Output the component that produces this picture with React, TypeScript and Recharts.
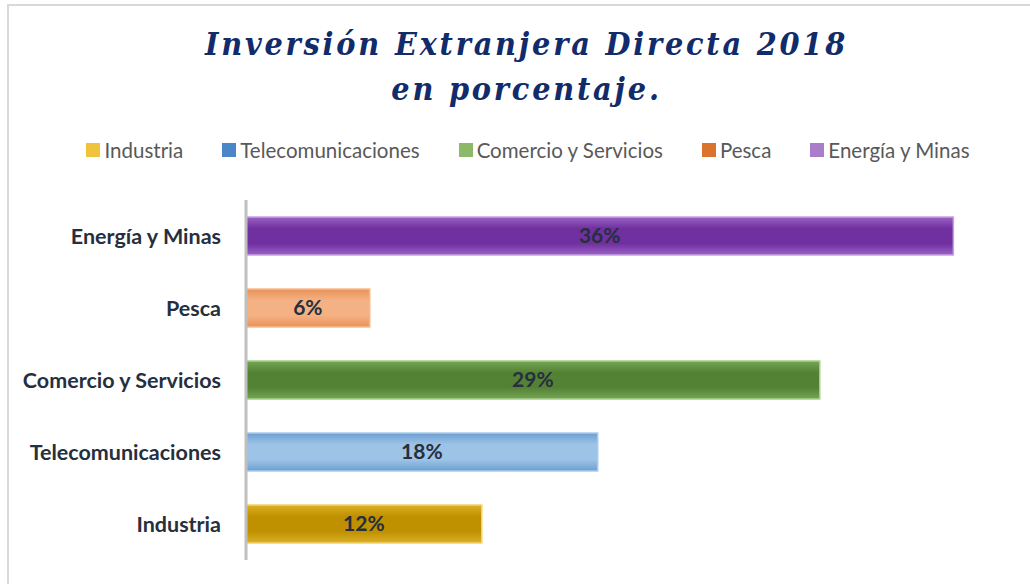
import { Bar, BarChart, Cell, LabelList, Legend, XAxis, YAxis } from 'recharts'

// IED 2018 por sector, en porcentaje (orden de abajo hacia arriba en la gráfica)
const sectores = ['Industria', 'Telecomunicaciones', 'Comercio y Servicios', 'Pesca', 'Energía y Minas']
const porcentajes = [12, 17.9, 29.2, 6.3, 36]
const etiquetas = ['12%', '18%', '29%', '6%', '36%']

// [centro, borde, contorno, leyenda]
const colores = [
  ['#bf9000', '#dcb128', '#f3d36a', '#f0c33c'],
  ['#9dc3e6', '#6d9fd3', '#a9cbec', '#4a86c8'],
  ['#548235', '#77a556', '#a5cf8a', '#8cb86a'],
  ['#f4b183', '#ea9258', '#f5bb90', '#d9732e'],
  ['#7030a0', '#9a62c4', '#c7a1e2', '#a97dc9'],
]

// Recharts dibuja la categoría de arriba primero; invertimos para que Energía quede arriba
const data = sectores
  .map((s, i) => ({ sector: s, valor: porcentajes[i], etiqueta: etiquetas[i], idx: i }))
  .reverse()

const font = "Lato, 'Open Sans', sans-serif"

function LeyendaIED() {
  return (
    <div style={{ display: 'flex', justifyContent: 'center', gap: 39, fontFamily: font, fontSize: 20.5, color: '#595959', height: 24 }}>
      {sectores.map((s, i) => (
        <span key={s} style={{ display: 'flex', alignItems: 'center', gap: 4 }}>
          <span style={{ width: 14, height: 14, background: colores[i][3], display: 'inline-block' }} />
          {s}
        </span>
      ))}
    </div>
  )
}

export default function App() {
  return (
    <div style={{ position: 'absolute', left: 0, top: 0, width: 1030, height: 584, background: '#fff', overflow: 'hidden' }}>
      <div
        style={{
          position: 'absolute',
          left: 7,
          top: 4,
          width: 1100,
          height: 700,
          borderTop: '2px solid #d9d9d9',
          borderLeft: '2px solid #d9d9d9',
        }}
      />
      <div
        style={{
          position: 'absolute',
          left: 0,
          top: 22,
          width: 1053,
          textAlign: 'center',
          fontFamily: "'DejaVu Serif Condensed', 'DejaVu Serif', serif",
          fontStyle: 'italic',
          fontWeight: 700,
          fontSize: 32,
          letterSpacing: 2.8,
          lineHeight: '45px',
          color: '#112b6b',
        }}
      >
        Inversión Extranjera Directa 2018
        <br />
        en porcentaje.
      </div>
      <div style={{ position: 'absolute', left: 0, top: 0 }}>
        <BarChart
          width={1030}
          height={584}
          layout="vertical"
          data={data}
          margin={{ top: 176, right: 0, bottom: 24, left: 0 }}
          barSize={38}
        >
          <defs>
            {colores.map((c, i) => (
              <linearGradient key={i} id={`g${i}`} x1="0" y1="0" x2="0" y2="1">
                <stop offset="0%" stopColor={c[1]} />
                <stop offset="30%" stopColor={c[0]} />
                <stop offset="70%" stopColor={c[0]} />
                <stop offset="100%" stopColor={c[1]} />
              </linearGradient>
            ))}
          </defs>
          <XAxis type="number" domain={[0, 39.9]} hide />
          <YAxis
            type="category"
            dataKey="sector"
            width={246}
            axisLine={{ stroke: '#bfbfbf', strokeWidth: 3 }}
            tickLine={false}
            tickMargin={19}
            tick={{ fill: '#262f3d', fontFamily: font, fontSize: 21.5, fontWeight: 700 }}
          />
          <Legend
            verticalAlign="top"
            content={() => <LeyendaIED />}
            wrapperStyle={{ top: 138, left: 0, width: 1056 }}
          />
          <Bar dataKey="valor" isAnimationActive={false}>
            {data.map((d) => (
              <Cell key={d.sector} fill={`url(#g${d.idx})`} stroke={colores[d.idx][2]} strokeWidth={1.5} />
            ))}
            <LabelList
              dataKey="etiqueta"
              position="center"
              fill="#262f3d"
              style={{ fontFamily: font, fontSize: 21, fontWeight: 700 }}
            />
          </Bar>
        </BarChart>
      </div>
    </div>
  )
}
